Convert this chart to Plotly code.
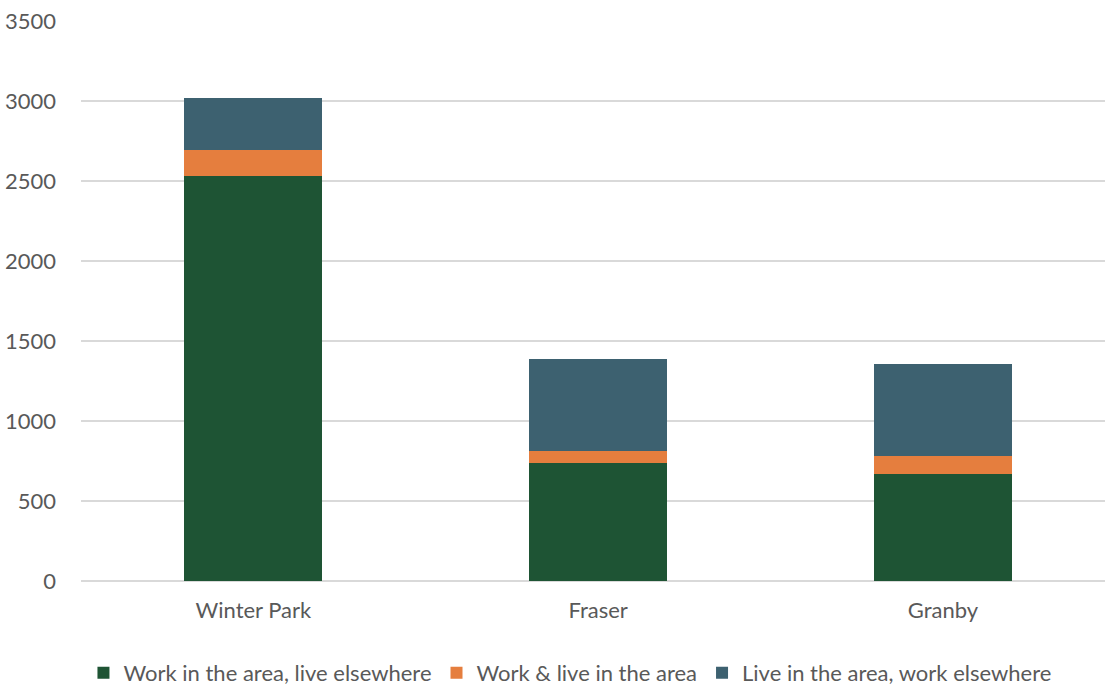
import plotly.graph_objects as go

# Commuting patterns by town
towns = ["Winter Park", "Fraser", "Granby"]
work_here_live_elsewhere = [2531, 737, 669]
work_and_live_here = [163, 75, 112]
live_here_work_elsewhere = [325, 576, 575]

series = [
    ("Work in the area, live elsewhere", work_here_live_elsewhere, "#1E5434"),
    ("Work & live in the area", work_and_live_here, "#E57E3E"),
    ("Live in the area, work elsewhere", live_here_work_elsewhere, "#3D6170"),
]

fig = go.Figure()
for name, vals, color in series:
    fig.add_trace(go.Bar(
        x=towns, y=vals, name=name,
        marker=dict(color=color, line=dict(width=0)),
        width=0.4,
    ))

font_family = "Lato, 'Open Sans', sans-serif"
fig.update_layout(
    barmode="stack",
    width=1105, height=685,
    margin=dict(l=81, r=0, t=21, b=104, autoexpand=False),
    paper_bgcolor="white", plot_bgcolor="white",
    font=dict(family=font_family, size=22, color="#595959"),
    showlegend=True,
    legend=dict(
        orientation="h", x=0.4775, xanchor="center", y=-0.164, yanchor="middle",
        font=dict(size=22, color="#595959"), traceorder="normal",
        itemwidth=30,
    ),
    xaxis=dict(
        type="category", range=[-0.5, 2.47],
        showgrid=False, showline=False, ticks="",
        ticklabelstandoff=14,
        tickfont=dict(size=22, color="#595959"),
    ),
    yaxis=dict(
        range=[0, 3500], dtick=500, tick0=0,
        showgrid=True, gridcolor="#D9D9D9", gridwidth=1.5,
        zeroline=True, zerolinecolor="#D9D9D9", zerolinewidth=1.5,
        showline=False, ticks="", ticklabelstandoff=24,
        tickfont=dict(size=22, color="#595959"),
    ),
)

fig.write_html("out.html")
